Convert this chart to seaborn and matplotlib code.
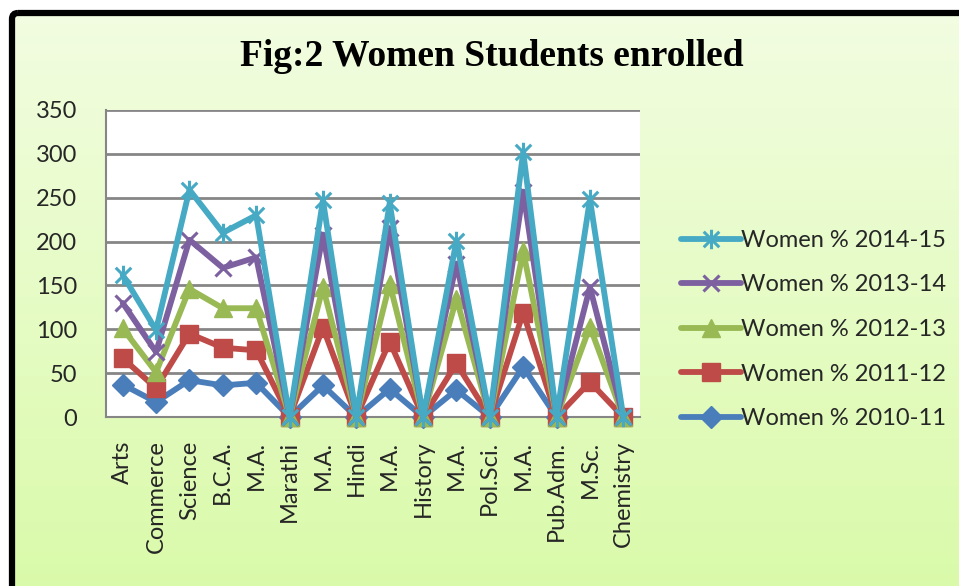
import numpy as np
import pandas as pd
import matplotlib
matplotlib.use("Agg")
import matplotlib.pyplot as plt
from matplotlib.path import Path
from matplotlib.patches import FancyBboxPatch
import seaborn as sns

categories = ["Arts", "Commerce", "Science", "B.C.A.", "M.A.", "Marathi", "M.A.", "Hindi",
              "M.A.", "History", "M.A.", "Pol.Sci.", "M.A.", "Pub.Adm.", "M.Sc.", "Chemistry"]
series_names = ["Women % 2010-11", "Women % 2011-12", "Women % 2012-13",
                "Women % 2013-14", "Women % 2014-15"]
women_2010_11 = [37, 17, 42, 36, 39, 0, 36, 0, 32, 0, 31, 0, 57, 0, None, None]
women_2011_12 = [30, 16, 53, 43, 37, 0, 66, 0, 54, 0, 30, 0, 62, 0, 40, 0]
women_2012_13 = [34, 18, 51, 45, 48, 0, 46, 0, 66, 0, 74, 0, 70, 0, 63, 0]
women_2013_14 = [29, 23, 56, 46, 58, 0, 60, 0, 63, 0, 40, 0, 68, 0, 45, 0]
women_2014_15 = [32, 25, 57, 40, 48, 0, 39, 0, 29, 0, 26, 0, 45, 0, 100, 0]
y_ticks = [0, 50, 100, 150, 200, 250, 300, 350]

values = np.array([women_2010_11, women_2011_12, women_2012_13, women_2013_14, women_2014_15],
                  dtype=float)
missing = np.isnan(values)
stacked = np.cumsum(np.nan_to_num(values), axis=0)  # stacked line chart
stacked[missing] = np.nan

asterisk = Path([(0, -1), (0, 1), (-0.8, -0.8), (0.8, 0.8), (-0.8, 0.8), (0.8, -0.8)],
                [Path.MOVETO, Path.LINETO, Path.MOVETO, Path.LINETO, Path.MOVETO, Path.LINETO])
colors = ["#4a7ebb", "#be4b48", "#98b954", "#7d60a0", "#46aac5"]
markers = ["D", "s", "^", "x", asterisk]
msizes = [11, 13, 13, 12, 14]

sns.set_theme(style="white")
plt.rcParams["font.family"] = ["Lato", "DejaVu Sans"]

W, H, DPI = 959, 586, 100
fig = plt.figure(figsize=(W / DPI, H / DPI), dpi=DPI)
fig.patch.set_facecolor("white")

# gradient background panel with black border
bg = fig.add_axes([0, 0, 1, 1], zorder=-10)
bg.set_xlim(0, W)
bg.set_ylim(H, 0)
bg.axis("off")
grad = np.linspace(0, 1, 256)[:, None]
top = np.array([242, 253, 225]) / 255
bot = np.array([217, 250, 168]) / 255
img = top[None, None, :] * (1 - grad[:, :, None]) + bot[None, None, :] * grad[:, :, None]
bg.imshow(img, extent=[12, W + 20, H + 20, 12], aspect="auto", zorder=0)
bg.add_patch(FancyBboxPatch((12, 13), W + 40, H + 40,
                            boxstyle="round,pad=0,rounding_size=6",
                            fill=False, edgecolor="black", linewidth=4.5, zorder=2))

ax = fig.add_axes([106 / W, 1 - 417 / H, (640 - 106) / W, (417 - 110) / H])
ax.set_facecolor("white")
x = np.arange(len(categories))

for i in range(len(series_names)):
    df = pd.DataFrame({"x": x, "y": stacked[i]}).dropna()
    sns.lineplot(data=df, x="x", y="y", ax=ax, color=colors[i], linewidth=4.2,
                 marker=markers[i], markersize=msizes[i], markeredgecolor=colors[i],
                 markeredgewidth=2.2 if i >= 3 else 1.0, label=series_names[i],
                 clip_on=False, zorder=3 + i)

ax.set_xlim(-0.5, len(categories) - 0.5)
ax.set_ylim(0, 350)
ax.set_yticks(y_ticks)
ax.set_yticklabels([str(t) for t in y_ticks], fontsize=17)
ax.set_xticks(x)
ax.set_xticklabels(categories, rotation=90, fontsize=17)
ax.set_xticks(np.arange(len(categories) + 1) - 0.5, minor=True)
ax.tick_params(axis="x", which="major", length=0, pad=17)
ax.tick_params(axis="x", which="minor", length=6, width=1.5, color="#868686", direction="out")
ax.tick_params(axis="y", which="major", length=7, width=1.5, color="#868686", direction="out", pad=14)
ax.set_xlabel("")
ax.set_ylabel("")
ax.grid(axis="y", color="#868686", linewidth=2)
ax.set_axisbelow(True)
for s in ["top", "right"]:
    ax.spines[s].set_visible(False)
for s in ["left", "bottom"]:
    ax.spines[s].set_color("#868686")
    ax.spines[s].set_linewidth(1.5)

h, l = ax.get_legend_handles_labels()
leg = ax.legend(h[::-1], l[::-1], loc="center left", bbox_to_anchor=(1.06, 0.285),
                frameon=False, fontsize=17, handlelength=2.5, labelspacing=1.0,
                handletextpad=0.0, borderaxespad=0)

fig.text(492 / W, 1 - 57 / H, "Fig:2 Women Students enrolled", ha="center", va="center",
         fontsize=27, fontweight="bold", family="Liberation Serif", color="black")

fig.savefig("out.png", dpi=DPI)
